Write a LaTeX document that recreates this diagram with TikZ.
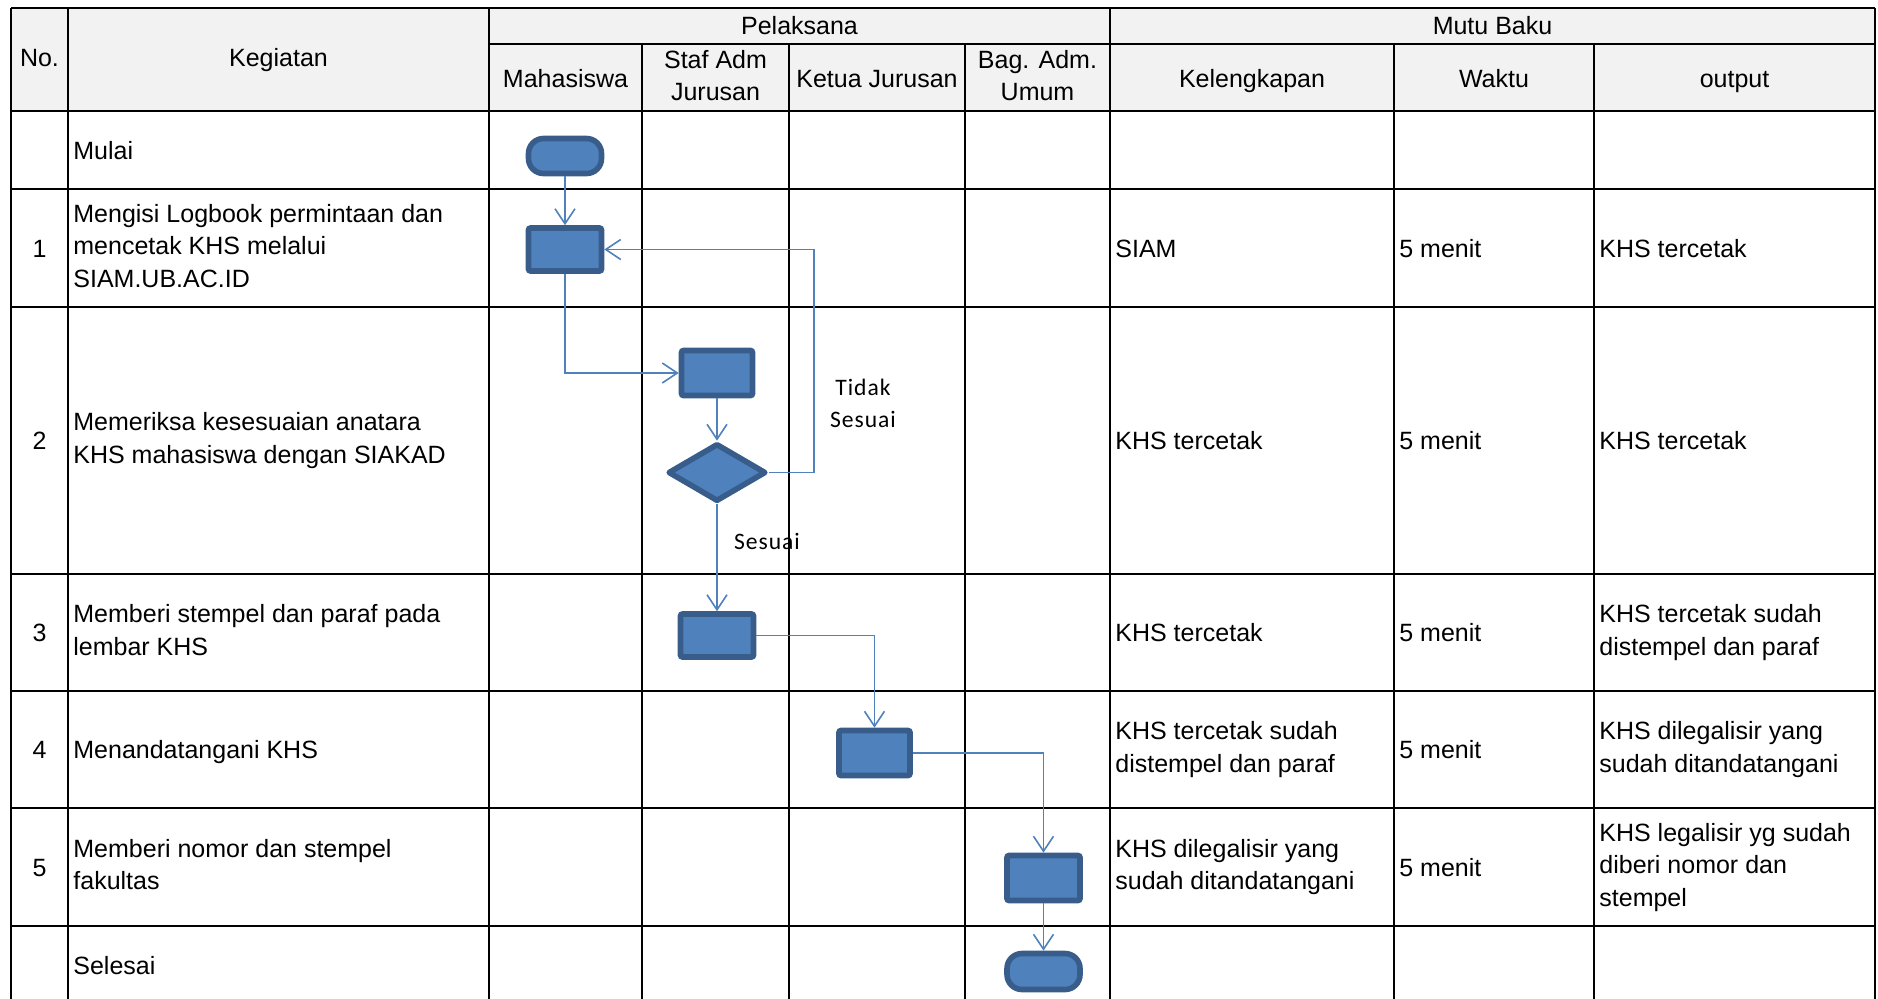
\documentclass[tikz,border=0pt]{standalone}
\usepackage{fontspec}
\setmainfont{Liberation Sans}
\newfontfamily\calib[LetterSpace=4]{Carlito}
\usetikzlibrary{arrows.meta,shapes.geometric}
\definecolor{fillblue}{HTML}{4F81BD}
\definecolor{edgeblue}{HTML}{385D8A}
\definecolor{hdr}{HTML}{F2F2F2}
\begin{document}
\begin{tikzpicture}[x=0.5pt,y=-0.5pt,
  grid/.style={line width=1.2pt,draw=black},
  cell/.style={inner sep=0pt,font=\fontsize{12.5}{16.25}\selectfont,
    execute at begin node=\strut,execute at end node=\strut,yshift=-1.25pt},
  lcell/.style={cell,anchor=west,align=left},
  ccell/.style={cell,anchor=center,align=center},
  lbl/.style={inner sep=0pt,font=\calib\fontsize{11.8}{16}\selectfont,
    execute at begin node=\strut,execute at end node=\strut,align=center},
  proc/.style={rectangle,rounded corners=1pt,draw=edgeblue,fill=fillblue,
    line width=2.8pt,minimum width=36.5pt,minimum height=21.5pt,inner sep=0pt},
  term/.style={rectangle,rounded corners=7.5pt,draw=edgeblue,fill=fillblue,
    line width=2.8pt,minimum width=36.5pt,minimum height=17.5pt,inner sep=0pt},
  dec/.style={diamond,draw=edgeblue,fill=fillblue,line width=2.8pt,line join=round,
    minimum width=49pt,minimum height=29pt,inner sep=0pt},
  flow/.style={draw=fillblue,line width=0.8pt,-{Straight Barb[length=7.5pt,width=10pt]}}
]
\useasboundingbox (0,0) rectangle (1878,998);
\clip (0,0) rectangle (1878,998);
% header background
\fill[hdr] (11,8) rectangle (1875,111);
% grid
\draw[grid] (11,8) -- (1875,8);
\draw[grid] (489,44) -- (1875,44);
\foreach \yy in {111,189,307,574,691,808,926}
  \draw[grid] (11,\yy) -- (1875,\yy);
\foreach \xx in {11,68,489,1110,1875}
  \draw[grid] (\xx,8) -- (\xx,1000);
\foreach \xx in {642,789,965,1394,1594}
  \draw[grid] (\xx,44) -- (\xx,1000);
% header texts
\node[ccell] (hno) at (39.5,57) {No.};
\node[ccell] (hkeg) at (278.5,57) {Kegiatan};
\node[ccell] (hpel) at (799.5,25) {Pelaksana};
\node[ccell] (hmutu) at (1492.5,25) {Mutu Baku};
\node[ccell] (hmhs) at (565.5,78.5) {Mahasiswa};
\node[ccell] (hstaf) at (715.5,78) {Staf Adm\\Jurusan};
\node[ccell] (hketua) at (877,78.5) {Ketua Jurusan};
\node[ccell] (hbag) at (1037.5,78) {Bag. Adm.\\Umum};
\node[ccell] (hkel) at (1252,78.5) {Kelengkapan};
\node[ccell] (hwak) at (1494,78.5) {Waktu};
\node[ccell] (hout) at (1734.5,78.5) {output};
% row Mulai
\node[lcell] (kmulai) at (73,150) {Mulai};
% row 1
\node[ccell] (n1) at (39.5,248) {1};
\node[lcell] (k1) at (73,248) {Mengisi Logbook permintaan dan\\mencetak KHS melalui\\SIAM.UB.AC.ID};
\node[lcell] (l1) at (1115,248) {SIAM};
\node[lcell] (w1) at (1399,248) {5 menit};
\node[lcell] (o1) at (1599,248) {KHS tercetak};
% row 2
\node[ccell] (n2) at (39.5,440.5) {2};
\node[lcell] (k2) at (73,440.5) {Memeriksa kesesuaian anatara\\KHS mahasiswa dengan SIAKAD};
\node[lcell] (l2) at (1115,440.5) {KHS tercetak};
\node[lcell] (w2) at (1399,440.5) {5 menit};
\node[lcell] (o2) at (1599,440.5) {KHS tercetak};
% row 3
\node[ccell] (n3) at (39.5,632.5) {3};
\node[lcell] (k3) at (73,632.5) {Memberi stempel dan paraf pada\\lembar KHS};
\node[lcell] (l3) at (1115,632.5) {KHS tercetak};
\node[lcell] (w3) at (1399,632.5) {5 menit};
\node[lcell] (o3) at (1599,632.5) {KHS tercetak sudah\\distempel dan paraf};
% row 4
\node[ccell] (n4) at (39.5,749.5) {4};
\node[lcell] (k4) at (73,749.5) {Menandatangani KHS};
\node[lcell] (l4) at (1115,749.5) {KHS tercetak sudah\\distempel dan paraf};
\node[lcell] (w4) at (1399,749.5) {5 menit};
\node[lcell] (o4) at (1599,749.5) {KHS dilegalisir yang\\sudah ditandatangani};
% row 5
\node[ccell] (n5) at (39.5,867) {5};
\node[lcell] (k5) at (73,867) {Memberi nomor dan stempel\\fakultas};
\node[lcell] (l5) at (1115,867) {KHS dilegalisir yang\\sudah ditandatangani};
\node[lcell] (w5) at (1399,867) {5 menit};
\node[lcell] (o5) at (1599,867) {KHS legalisir yg sudah\\diberi nomor dan\\stempel};
% row Selesai
\node[lcell] (kselesai) at (73,965) {Selesai};
% flow shapes
\node[term] (mulai) at (565,156) {};
\node[proc] (b1) at (565,249.5) {};
\node[proc,minimum width=35.5pt,minimum height=22.5pt] (b2) at (717,373) {};
\node[dec] (dia) at (717,472.5) {};
\node[proc] (b3) at (717,635.5) {};
\node[proc,minimum width=35.5pt,minimum height=22.5pt] (b4) at (874.5,753) {};
\node[proc,minimum height=22.5pt] (b5) at (1043.5,878) {};
\node[term,minimum height=18pt] (selesai) at (1043.5,971.5) {};
\coordinate (tturn) at (814,472.5);
% connectors
\draw[flow] (mulai.south) -- (b1.north);
\draw[flow] (b1.south) |- (b2.west);
\draw[flow] (b2.south) -- (dia.north);
\draw[flow] (dia.east) -- (tturn) |- (b1.east);
\draw[flow] (dia.south) -- (b3.north);
\draw[flow] (b3.east) -| (b4.north);
\draw[flow] (b4.east) -| (b5.north);
\draw[flow] (b5.south) -- (selesai.north);
% labels
\node[lbl] (ltidak) at (863,408.5) {Tidak\\Sesuai};
\node[lbl] (lsesuai) at (767,543) {Sesuai};
\end{tikzpicture}
\end{document}
